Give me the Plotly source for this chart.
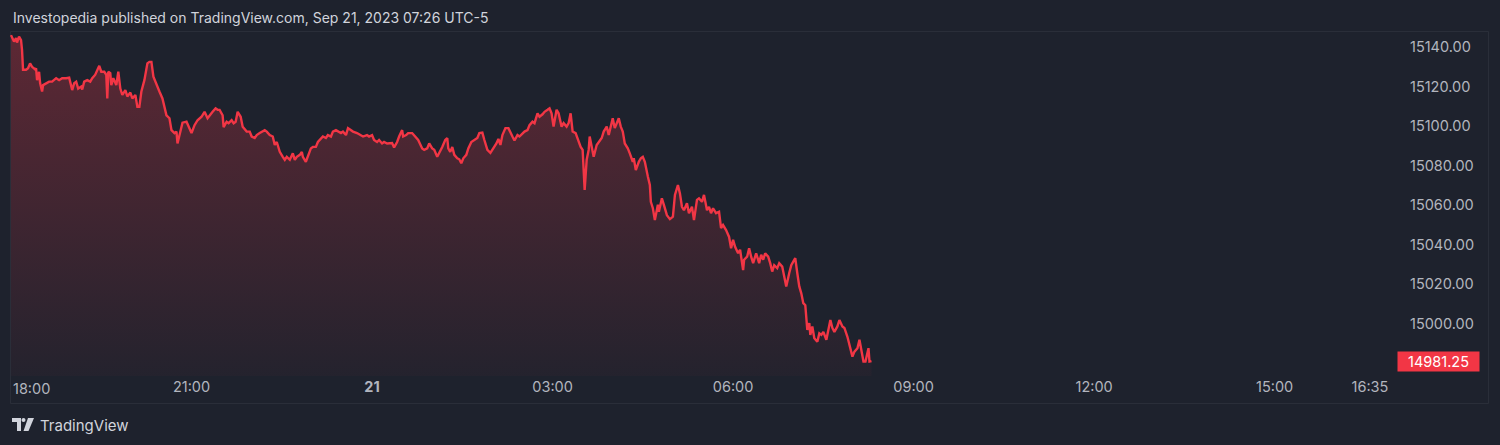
import pandas as pd
import plotly.graph_objects as go

# ---- data (minutes after 2023-09-20 18:00, price) ----
minutes = [0, 3, 5, 6, 8, 10, 11, 12, 15, 17, 19, 21, 24, 25, 26, 28, 29, 31, 32, 35,
           38, 41, 45, 48, 51, 55, 58, 61, 63, 65, 67, 70, 71, 73, 76, 79, 81, 84, 86, 88,
           90, 93, 95, 96, 97, 99, 100, 102, 105, 107, 109, 111, 114, 116, 119, 121, 124, 126, 128, 130,
           133, 136, 138, 140, 142, 145, 148, 151, 155, 158, 160, 163, 165, 166, 169, 171, 175, 178, 180, 183,
           186, 190, 193, 196, 198, 201, 204, 206, 208, 211, 212, 215, 217, 220, 222, 224, 226, 229, 231, 235,
           238, 240, 243, 245, 248, 251, 253, 255, 258, 261, 263, 265, 268, 271, 273, 275, 278, 281, 283, 285,
           288, 290, 291, 294, 296, 299, 301, 304, 306, 309, 311, 314, 316, 319, 321, 324, 326, 329, 331, 334,
           336, 339, 341, 345, 348, 351, 355, 357, 360, 362, 365, 367, 370, 372, 375, 377, 380, 382, 385, 387,
           390, 391, 394, 396, 400, 403, 406, 410, 412, 415, 417, 420, 422, 425, 427, 430, 433, 435, 436, 438,
           440, 442, 445, 447, 449, 451, 454, 456, 459, 462, 465, 467, 470, 472, 475, 478, 481, 484, 486, 488,
           490, 493, 496, 498, 500, 502, 505, 507, 510, 512, 515, 517, 520, 522, 525, 527, 530, 532, 535, 537,
           539, 541, 544, 546, 549, 551, 554, 556, 558, 560, 563, 566, 568, 570, 571, 572, 574, 576, 577, 579,
           581, 584, 586, 589, 591, 594, 596, 598, 600, 602, 605, 606, 608, 610, 612, 615, 617, 620, 621, 623,
           626, 628, 630, 632, 635, 637, 638, 640, 642, 645, 646, 649, 651, 654, 657, 660, 662, 665, 667, 669,
           671, 674, 676, 679, 681, 684, 686, 689, 691, 694, 696, 698, 700, 703, 706, 708, 710, 713, 716, 718,
           720, 722, 725, 727, 730, 731, 734, 736, 738, 740, 743, 746, 748, 750, 752, 755, 757, 759, 761, 764,
           766, 769, 771, 773, 776, 778, 780, 782, 784, 786, 788, 790, 792, 794, 796, 797, 799, 801, 804, 806,
           808, 810, 813, 816, 817, 819, 821, 824, 826, 829, 831, 834, 836, 839, 841, 844, 846, 848, 850, 852,
           855, 856, 858]
prices = [15146.0, 15142.75, 15144.5, 15142.25, 15145.25, 15143.5, 15138.5, 15128.5, 15128.5, 15129.25,
          15131.75, 15130.0, 15128.75, 15129.25, 15123.25, 15127.5, 15121.75, 15117.5, 15120.75, 15121.75,
          15122.5, 15122.5, 15124.25, 15123.25, 15124.25, 15124.25, 15124.5, 15118.25, 15121.75, 15122.5,
          15119.0, 15120.0, 15118.5, 15122.5, 15123.25, 15122.5, 15124.25, 15126.0, 15128.5, 15130.5,
          15127.5, 15127.5, 15126.0, 15114.0, 15127.5, 15126.75, 15120.75, 15124.25, 15120.75, 15127.5,
          15119.0, 15115.75, 15118.25, 15115.0, 15117.0, 15114.0, 15115.75, 15109.75, 15109.75, 15117.5,
          15123.25, 15131.75, 15132.5, 15132.5, 15125.0, 15120.75, 15117.5, 15114.0, 15105.5, 15104.0,
          15098.0, 15096.5, 15097.25, 15091.25, 15097.25, 15101.75, 15102.25, 15099.0, 15096.5, 15100.5,
          15103.0, 15104.75, 15107.25, 15104.0, 15105.5, 15107.25, 15109.0, 15108.25, 15108.25, 15105.5,
          15099.5, 15102.25, 15101.5, 15103.0, 15101.5, 15102.25, 15107.25, 15104.75, 15099.75, 15097.25,
          15097.25, 15094.75, 15094.0, 15095.5, 15096.5, 15097.25, 15098.0, 15097.25, 15095.5, 15094.75,
          15090.5, 15092.0, 15087.0, 15084.5, 15083.0, 15084.5, 15083.0, 15086.25, 15083.0, 15084.5,
          15085.5, 15087.0, 15084.5, 15082.0, 15084.5, 15088.75, 15089.5, 15089.5, 15092.0, 15094.0,
          15094.75, 15094.0, 15095.5, 15094.75, 15097.25, 15098.0, 15097.25, 15096.5, 15097.25, 15095.5,
          15099.0, 15097.75, 15097.25, 15096.5, 15095.5, 15094.75, 15095.5, 15094.75, 15095.5, 15093.0,
          15092.0, 15093.0, 15091.25, 15092.0, 15091.25, 15091.25, 15091.5, 15089.25, 15092.0, 15094.75,
          15098.0, 15094.75, 15095.5, 15096.5, 15096.5, 15094.75, 15093.0, 15088.75, 15088.0, 15088.75,
          15091.25, 15088.75, 15088.0, 15084.5, 15086.25, 15089.5, 15093.0, 15094.0, 15088.75, 15087.0,
          15089.5, 15085.5, 15083.75, 15083.25, 15081.25, 15083.75, 15085.5, 15088.75, 15092.0, 15093.0,
          15094.0, 15096.5, 15096.75, 15093.0, 15088.0, 15086.5, 15088.75, 15091.25, 15093.5, 15090.5,
          15095.5, 15099.0, 15099.0, 15096.5, 15094.75, 15092.75, 15095.5, 15094.75, 15096.0, 15097.25,
          15098.0, 15100.5, 15102.25, 15101.5, 15106.5, 15104.75, 15106.0, 15107.25, 15108.25, 15109.0,
          15106.5, 15099.75, 15108.25, 15106.5, 15099.75, 15101.5, 15099.75, 15101.5, 15106.5, 15097.25,
          15096.5, 15092.0, 15089.5, 15088.0, 15077.75, 15067.75, 15083.0, 15088.0, 15094.75, 15089.5,
          15084.5, 15090.5, 15092.0, 15094.0, 15097.25, 15099.75, 15095.5, 15099.75, 15104.0, 15099.0,
          15102.25, 15104.0, 15099.75, 15097.25, 15091.25, 15088.75, 15086.25, 15082.0, 15083.75, 15077.75,
          15082.0, 15083.75, 15084.5, 15082.0, 15074.5, 15070.25, 15061.75, 15058.5, 15052.5, 15060.25,
          15056.75, 15063.5, 15060.25, 15055.0, 15053.0, 15054.25, 15065.25, 15070.25, 15066.0, 15059.25,
          15057.5, 15061.0, 15056.0, 15059.25, 15052.5, 15062.75, 15063.5, 15061.75, 15065.25, 15057.5,
          15059.25, 15056.0, 15058.5, 15056.0, 15056.75, 15048.5, 15050.0, 15047.5, 15044.0, 15038.25,
          15042.5, 15039.0, 15035.75, 15037.5, 15027.25, 15032.5, 15034.0, 15038.25, 15034.0, 15030.75,
          15035.75, 15030.75, 15035.0, 15032.5, 15035.75, 15034.0, 15030.75, 15026.5, 15029.75, 15028.25,
          15030.75, 15029.0, 15024.0, 15019.0, 15025.75, 15029.75, 15031.5, 15033.25, 15025.75, 15019.0,
          15015.5, 15010.5, 15009.5, 14997.0, 15000.5, 14994.5, 14998.75, 14992.75, 14991.0, 14995.25,
          14994.5, 14996.0, 14992.0, 14998.75, 15002.0, 14998.0, 14996.0, 14998.75, 15002.0, 14998.75,
          14998.0, 14993.5, 14989.5, 14983.5, 14986.0, 14987.75, 14992.0, 14985.25, 14981.0, 14981.0,
          14987.75, 14981.0, 14981.25]

session_start = pd.Timestamp("2023-09-20 18:00")
times = [session_start + pd.Timedelta(minutes=m) for m in minutes]

tick_times = ["2023-09-20 21:00", "2023-09-21 00:00", "2023-09-21 03:00", "2023-09-21 06:00",
              "2023-09-21 09:00", "2023-09-21 12:00", "2023-09-21 15:00", "2023-09-21 16:35"]
tick_labels = ["21:00", "<b>21</b>", "03:00", "06:00", "09:00", "12:00", "15:00", "16:35"]
first_tick_label = "18:00"
price_ticks = [15000, 15020, 15040, 15060, 15080, 15100, 15120, 15140]
price_labels = [f"{v:.2f}" for v in price_ticks]
last_price = prices[-1]

title_text = "Investopedia published on TradingView.com, Sep 21, 2023 07:26 UTC-5"

# ---- layout geometry (pixels) ----
W, H = 1500, 445
L, R, T, B = 10, 105, 31, 69
pw, ph = W - L - R, H - T - B
def px(x):
    return (x - L) / pw
def py(y):
    return (H - B - y) / ph

BG = "#1e222d"
RED = "#f23645"
TXT = "#b2b5be"
FONT = "Inter, Roboto, Liberation Sans, sans-serif"
TICK_SIZE = 14.5

y_lo, y_hi = 14973.7, 15148.1

fig = go.Figure()
fig.add_trace(go.Scatter(
    x=times, y=prices, mode="lines",
    line=dict(color=RED, width=2.4),
    fill="tozeroy",
    fillgradient=dict(type="vertical", start=y_lo, stop=15146,
                      colorscale=[[0, "rgba(242,54,69,0.03)"], [1, "rgba(242,54,69,0.30)"]]),
    hoverinfo="skip", showlegend=False,
))

fig.update_layout(
    width=W, height=H,
    margin=dict(l=L, r=R, t=T, b=B),
    paper_bgcolor=BG, plot_bgcolor=BG,
    font=dict(family=FONT, color=TXT, size=13),
    xaxis=dict(
        range=[session_start - pd.Timedelta(minutes=1), session_start + pd.Timedelta(minutes=1380)],
        tickvals=tick_times, ticktext=tick_labels,
        showgrid=False, zeroline=False, showline=False, ticks="",
        tickfont=dict(size=TICK_SIZE, color=TXT, family=FONT),
        fixedrange=True,
    ),
    yaxis=dict(
        range=[y_lo, y_hi], side="right",
        tickvals=price_ticks, ticktext=price_labels,
        showgrid=False, zeroline=False, showline=False, ticks="",
        ticklabelstandoff=14,
        tickfont=dict(size=TICK_SIZE, color=TXT, family=FONT),
        fixedrange=True,
    ),
    shapes=[
        dict(type="rect", xref="paper", yref="paper",
             x0=px(10.5), x1=px(1488.5), y0=py(403.5), y1=py(31.5),
             line=dict(color="#2a2e39", width=1), fillcolor="rgba(0,0,0,0)", layer="below"),
        # TradingView logo
        dict(type="path", xref="paper", yref="paper",
             path=(f"M {px(12)},{py(418)} L {px(21)},{py(418)} L {px(21)},{py(431)} L {px(17)},{py(431)} "
                   f"L {px(17)},{py(422)} L {px(12)},{py(422)} Z"),
             fillcolor="#d1d4dc", line=dict(width=0)),
        dict(type="circle", xref="paper", yref="paper",
             x0=px(21.5), x1=px(25.5), y0=py(422), y1=py(418),
             fillcolor="#d1d4dc", line=dict(width=0)),
        dict(type="path", xref="paper", yref="paper",
             path=(f"M {px(28)},{py(418)} L {px(34)},{py(418)} L {px(28.5)},{py(431)} L {px(23.5)},{py(431)} Z"),
             fillcolor="#d1d4dc", line=dict(width=0)),
    ],
    annotations=[
        dict(text=title_text, xref="paper", yref="paper", x=px(11), y=py(18),
             xanchor="left", yanchor="middle", showarrow=False,
             font=dict(size=14, color="#d1d4dc", family=FONT)),
        dict(text="TradingView", xref="paper", yref="paper", x=px(38), y=py(425),
             xanchor="left", yanchor="middle", showarrow=False,
             font=dict(size=15, color="#d1d4dc", family=FONT)),
        dict(text=first_tick_label, xref="x", yref="paper", x=session_start, y=py(388),
             xanchor="left", yanchor="middle", showarrow=False,
             font=dict(size=TICK_SIZE, color=TXT, family=FONT)),
        dict(text=f"{last_price:.2f}", xref="paper", yref="y", x=1, y=last_price,
             xanchor="left", yanchor="middle", xshift=2, showarrow=False,
             bgcolor=RED, width=77, height=15, borderpad=2, align="center",
             font=dict(size=TICK_SIZE, color="#ffffff", family=FONT)),
    ],
)

fig.write_html("out.html", config={"displayModeBar": False},
               post_script="document.body.style.margin='0px';")
